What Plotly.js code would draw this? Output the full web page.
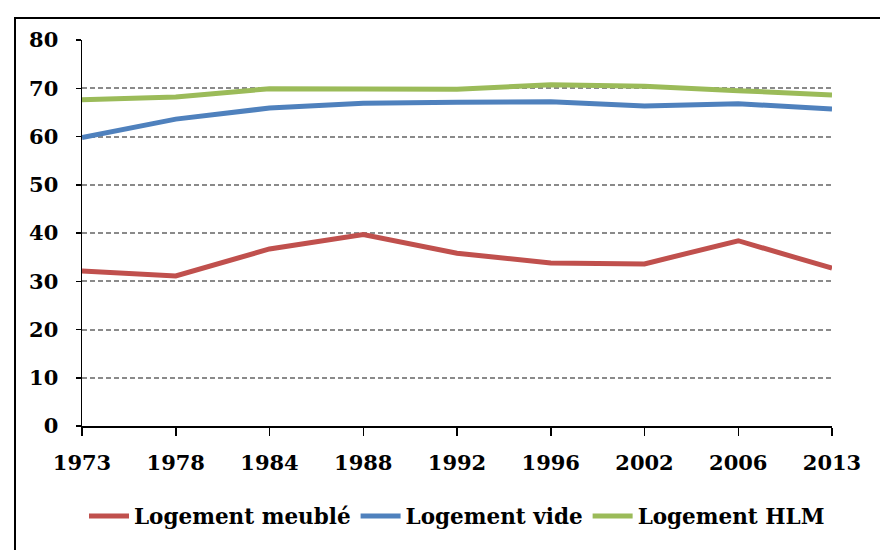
<!DOCTYPE html>
<html>
<head>
<meta charset="utf-8">
<script src="https://cdn.plot.ly/plotly-3.0.1.min.js"></script>
<style>
html,body{margin:0;padding:0;background:#fff;}
#wrap{position:relative;width:880px;height:550px;overflow:hidden;}
#chart{width:880px;height:550px;}
#frame{position:absolute;left:14px;top:17px;width:900px;height:600px;border:2px solid #000;pointer-events:none;}
</style>
</head>
<body>
<div id="wrap"><div id="chart"></div><div id="frame"></div></div>
<script>
const years = ["1973","1978","1984","1988","1992","1996","2002","2006","2013"];
const meuble = [32.1, 31.1, 36.7, 39.7, 35.8, 33.8, 33.6, 38.4, 32.7];
const vide   = [59.8, 63.6, 65.9, 66.9, 67.1, 67.2, 66.3, 66.8, 65.7];
const hlm    = [67.6, 68.2, 69.9, 69.8, 69.8, 70.7, 70.4, 69.5, 68.6];
const names = ["Logement meublé", "Logement vide", "Logement HLM"];
const colors = ["#C0504D", "#4F81BD", "#9BBB59"];
const series = [meuble, vide, hlm];

const fontFam = "'DejaVu Serif', serif";
const traces = series.map((s, i) => ({
  x: years, y: s, name: names[i], type: "scatter", mode: "lines",
  line: {color: colors[i], width: 5}
}));

const layout = {
  width: 880, height: 550,
  margin: {l: 82, r: 48, t: 40, b: 124},
  paper_bgcolor: "#fff", plot_bgcolor: "#fff",
  font: {family: fontFam, size: 20, color: "#000"},
  xaxis: {
    type: "category", range: [0, 8], showgrid: false, zeroline: false,
    showline: true, linecolor: "#000", linewidth: 1.5,
    ticks: "outside", ticklen: 8, tickwidth: 1.5, tickcolor: "#000",
    tickfont: {family: fontFam, size: 21, color: "#000", weight: "bold"},
    ticklabelstandoff: 9
  },
  yaxis: {
    range: [0, 80], dtick: 10, showgrid: true, gridcolor: "#8a8a8a", gridwidth: 2, griddash: "5px,3px",
    zeroline: false, showline: true, linecolor: "#000", linewidth: 1.5,
    ticks: "outside", ticklen: 5, tickwidth: 1.5, tickcolor: "#000",
    tickfont: {family: fontFam, size: 21, color: "#000", weight: "bold"},
    ticklabelstandoff: 13
  },
  showlegend: true,
  legend: {
    orientation: "h", x: 0.5, xanchor: "center", y: -0.233, yanchor: "middle",
    font: {family: fontFam, size: 21.5, color: "#000", weight: "bold"},
    itemwidth: 40, traceorder: "normal"
  }
};
Plotly.newPlot("chart", traces, layout, {displayModeBar: false, staticPlot: true});
</script>
</body>
</html>
